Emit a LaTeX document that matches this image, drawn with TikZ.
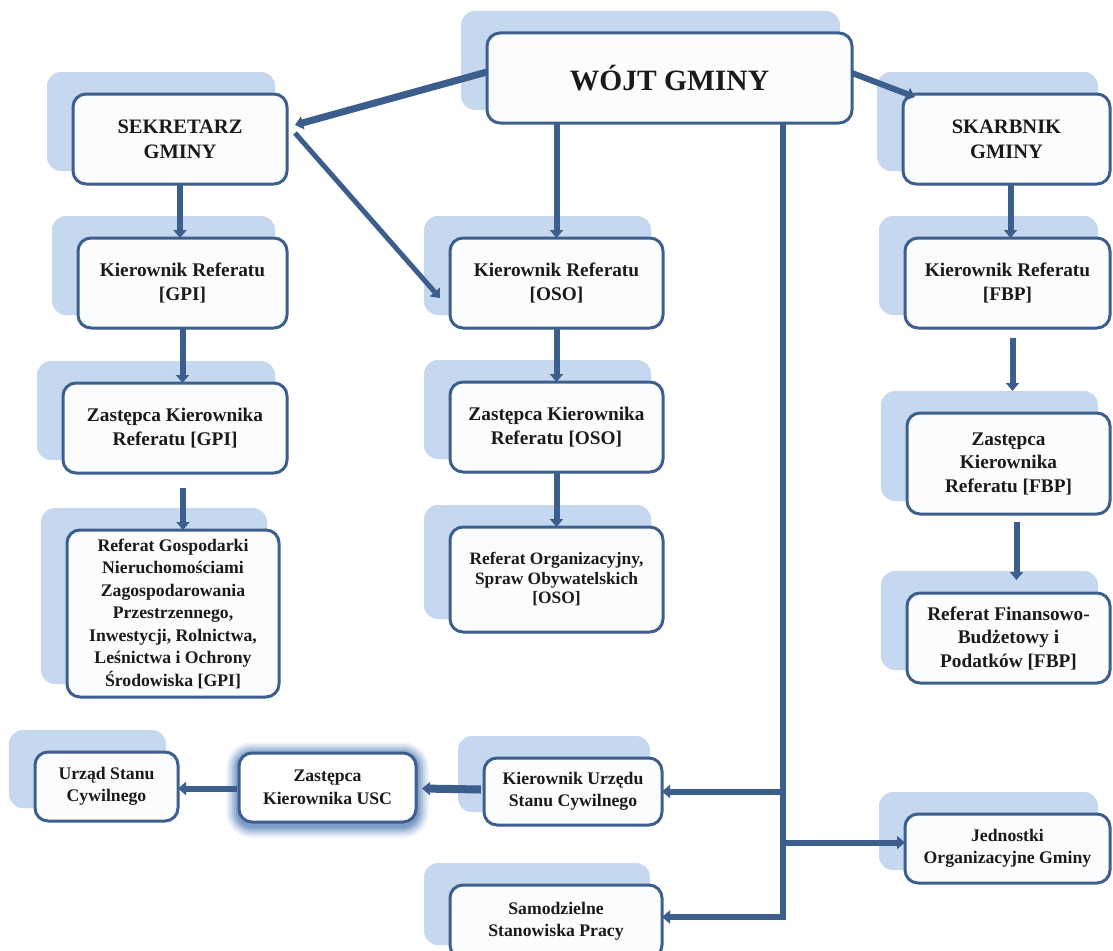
\documentclass[tikz,border=0pt]{standalone}
\usepackage{fontspec}
\setmainfont{Liberation Serif}
\usetikzlibrary{arrows.meta,calc}
\definecolor{bordc}{HTML}{3C5F8E}
\definecolor{connc}{HTML}{3B5E8D}
\definecolor{shadc}{HTML}{C6D8EF}
\definecolor{fillc}{HTML}{FBFCFE}
\definecolor{textc}{HTML}{1A1A1A}
\definecolor{glowc}{HTML}{3F6FAE}
\tikzset{
  obox/.style={draw=bordc, fill=fillc, line width=3pt, rounded corners=13pt,
    align=center, text=textc, inner sep=0pt, outer sep=0pt},
  ftop/.style={font=\fontsize{29.5}{34}\selectfont\bfseries},
  fhead/.style={font=\fontsize{20.5}{25}\selectfont\bfseries},
  fmain/.style={font=\fontsize{19.3}{23.5}\selectfont\bfseries},
  fsmall/.style={font=\fontsize{17.7}{22.5}\selectfont\bfseries},
  ftiny/.style={font=\fontsize{17.4}{19.5}\selectfont\bfseries},
  conn/.style={draw=connc, line width=6pt, -{Triangle[length=8pt,width=13pt]}},
  connb/.style={draw=connc, line width=6pt},
}
\newcommand\orgbox[7]{%
  \fill[shadc, rounded corners=14pt] ({#2-26},{#3-22}) rectangle ({#4-12},{#5-13});
  \node[obox, #6, minimum width={(#4-#2)*1pt}, minimum height={(#5-#3)*1pt}]
    (#1) at ({(#2+#4)/2},{(#3+#5)/2}) {#7};
}
\begin{document}
\begin{tikzpicture}[x=1pt,y=-1pt]
\useasboundingbox (0,0) rectangle (1113,950);
\clip (0,0) rectangle (1113,950);
\fill[white] (0,0) rectangle (1113,950);

% boxes
\orgbox{wojt}{487}{33}{852}{123}{ftop}{WÓJT GMINY}
\orgbox{sek}{73}{94}{287}{184}{fhead}{SEKRETARZ\\GMINY}
\orgbox{kgpi}{78}{238}{287}{328}{fmain}{Kierownik Referatu\\{[GPI]}}
\orgbox{zgpi}{63}{383}{287}{473}{fmain}{Zastępca Kierownika\\Referatu [GPI]}
\orgbox{rgpi}{67}{530}{279}{697}{fsmall}{Referat Gospodarki\\Nieruchomościami\\Zagospodarowania\\Przestrzennego,\\Inwestycji, Rolnictwa,\\Leśnictwa i Ochrony\\Środowiska [GPI]}
\orgbox{koso}{450}{238}{663}{328}{fmain}{Kierownik Referatu\\{[OSO]}}
\orgbox{zoso}{450}{382}{663}{472}{fmain}{Zastępca Kierownika\\Referatu [OSO]}
\orgbox{roso}{450}{527}{663}{632}{ftiny}{Referat Organizacyjny,\\Spraw Obywatelskich\\{[OSO]}}
\orgbox{skar}{903}{94}{1110}{184}{fhead}{SKARBNIK\\GMINY}
\orgbox{kfbp}{905}{238}{1110}{328}{fmain}{Kierownik Referatu\\{[FBP]}}
\orgbox{zfbp}{907}{413}{1110}{514}{fmain}{Zastępca\\Kierownika\\Referatu [FBP]}
\orgbox{rfbp}{907}{593}{1110}{683}{fmain}{Referat Finansowo-\\Budżetowy i\\Podatków [FBP]}
\orgbox{usc}{35}{752}{178}{821}{fsmall}{Urząd Stanu\\Cywilnego}
\orgbox{kusc}{484}{758}{662}{825}{fsmall}{Kierownik Urzędu\\Stanu Cywilnego}
\orgbox{sam}{450}{885}{662}{958}{fsmall}{Samodzielne\\Stanowiska Pracy}
\orgbox{jed}{905}{814}{1110}{883}{fsmall}{Jednostki\\Organizacyjne Gminy}

% glowing box
\foreach \g/\o in {13/0.07,11/0.1,9/0.13,7/0.17,5/0.22,3/0.28}{
  \fill[glowc, opacity=\o, rounded corners={13+\g}] ({239-\g},{753-\g+2}) rectangle ({416+\g},{822+\g+3});
}
\node[obox, fsmall, fill=white, minimum width=177pt, minimum height=69pt] (zusc) at (327.5,787.5) {Zastępca\\Kierownika USC};

% connectors
\draw[conn, line width=7pt] ($(wojt.west)+(0,-6)$) -- ($(sek.east)+(8,-14)$);
\draw[conn, line width=5pt] ($(sek.east)+(8,-6)$) -- ($(koso.west)+(-10,15)$);
\draw[conn] (koso.north |- wojt.south) -- (koso.north);
\draw[conn] ($(wojt.east)+(0,-5)$) -- ($(skar.north west)+(12,3)$);
\draw[conn] (sek.south) -- (sek.south |- kgpi.north);
\draw[conn] (kgpi.south) -- (kgpi.south |- zgpi.north);
\draw[conn] ($(rgpi.north)+(10,-42)$) -- ($(rgpi.north)+(10,0)$);
\draw[conn] (koso.south) -- (koso.south |- zoso.north);
\draw[conn] (zoso.south) -- (zoso.south |- roso.north);
\draw[conn] ($(skar.south)+(4,0)$) -- ($(skar.south |- kfbp.north)+(4,0)$);
\draw[conn] ($(kfbp.south)+(5,10)$) -- ($(kfbp.south |- zfbp.north)+(5,-22)$);
\draw[conn] ($(zfbp.south)+(8,8)$) -- ($(zfbp.south |- rfbp.north)+(8,-13)$);
\draw[conn, line width=8pt] ($(kusc.west)+(-3,-2)$) -- ($(zusc.east)+(6,1)$);
\draw[conn] ($(zusc.west)+(-2,1)$) -- ($(usc.east |- zusc.west)+(0,1)$);

\coordinate (trunkTop) at (783,123);
\coordinate (trunkBot) at (783,920);
\draw[connb] (trunkTop) -- (trunkBot);
\draw[conn] (trunkTop |- kusc.east) -- (kusc.east);
\draw[conn] ($(trunkTop |- jed.west)+(0,-6)$) -- ($(jed.west)+(0,-6)$);
\draw[conn] ($(trunkBot)+(3,-3)$) -- ($(sam.east |- trunkBot)+(0,-3)$);
\end{tikzpicture}
\end{document}
